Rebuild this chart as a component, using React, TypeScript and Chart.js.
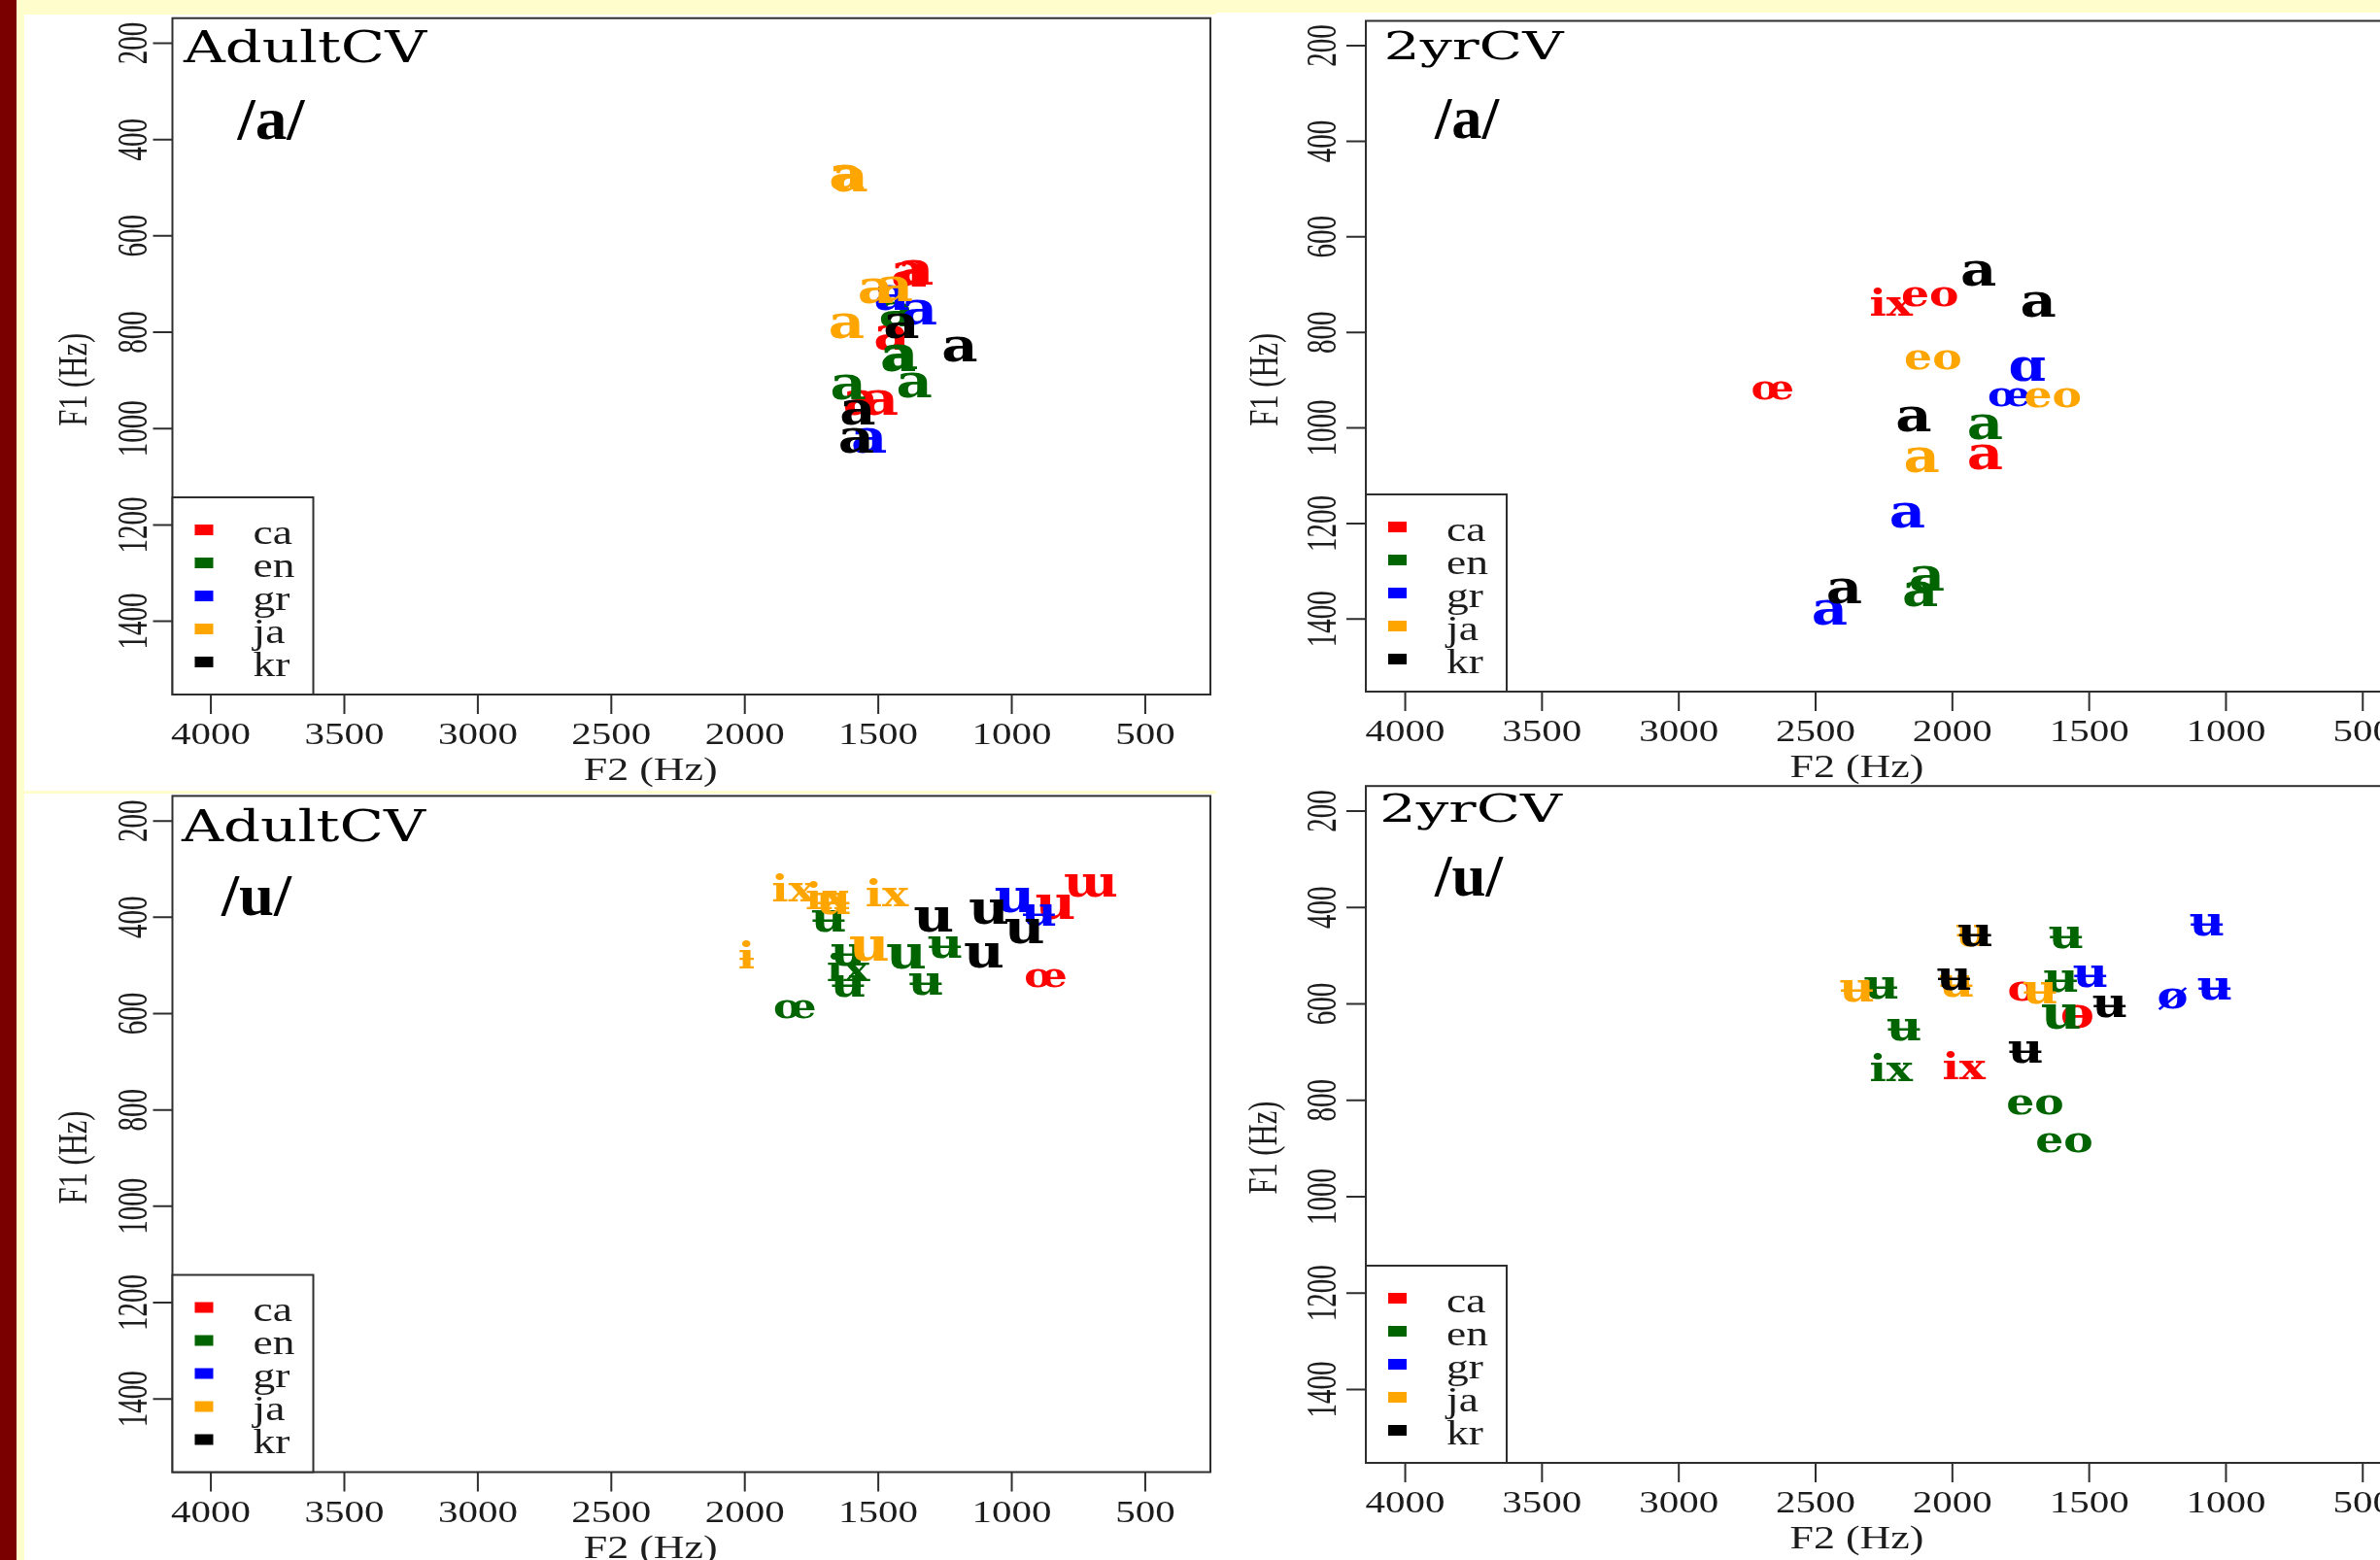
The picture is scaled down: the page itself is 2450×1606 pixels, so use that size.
import React, { useEffect, useRef } from "react";
import { Chart, registerables } from "chart.js";
Chart.register(...registerables);

// ---------- shared categories / ticks ----------
const LANGS = ["ca", "en", "gr", "ja", "kr"];
const LANG_COLORS = ["#ff0000", "#006400", "#0000ff", "#ffa500", "#000000"];
const F2_TICKS = [4000, 3500, 3000, 2500, 2000, 1500, 1000, 500];
const F1_TICKS = [200, 400, 600, 800, 1000, 1200, 1400];
const F2_LIMITS = [256, 4144];
const F1_LIMITS = [148, 1552];

// ---------- AdultCV /a/ ----------
const adultA_lang = ["ca", "ca", "ca", "ca", "ca", "en", "en", "en", "en", "en", "gr", "gr", "gr", "ja", "ja", "ja", "ja", "ja", "kr", "kr", "kr", "kr"];
const adultA_F2 = [1385, 1360, 1450, 1565, 1492, 1431, 1425, 1418, 1613, 1365, 1450, 1346, 1534, 1617, 1605, 1510, 1437, 1619, 1413, 1195, 1577, 1583];
const adultA_F1 = [679, 676, 812, 947, 947, 762, 856, 852, 913, 910, 729, 759, 1024, 479, 483, 714, 711, 786, 786, 836, 967, 1024];
const adultA_label = ["a", "a", "a", "a", "a", "a", "a", "a", "a", "a", "a", "a", "a", "a", "a", "a", "a", "a", "a", "a", "a", "a"];

// ---------- 2yrCV /a/ ----------
const childA_lang = ["ca", "ca", "ca", "ca", "en", "en", "en", "gr", "gr", "gr", "gr", "ja", "ja", "ja", "kr", "kr", "kr", "kr"];
const childA_F2 = [2224, 2082, 2657, 1881, 1881, 2094, 2118, 1727, 1793, 2165, 2449, 2071, 1633, 2112, 1905, 1686, 2142, 2396];
const childA_F1 = [745, 725, 921, 1060, 997, 1315, 1348, 877, 935, 1182, 1386, 857, 936, 1067, 677, 741, 982, 1342];
const childA_label = ["ix", "eo", "œ", "a", "a", "a", "a", "ɑ", "œ", "a", "a", "eo", "eo", "a", "a", "a", "a", "a"];

// ---------- AdultCV /u/ ----------
const adultU_lang = ["ca", "ca", "ca", "en", "en", "en", "en", "en", "en", "en", "en", "gr", "gr", "ja", "ja", "ja", "ja", "ja", "ja", "kr", "kr", "kr", "kr"];
const adultU_F2 = [837, 704, 873, 1686, 1395, 1250, 1613, 1613, 1613, 1322, 1813, 989, 898, 1819, 1692, 1668, 1468, 1534, 1994, 1292, 1086, 952, 1104];
const adultU_F1 = [378, 334, 526, 408, 482, 462, 479, 512, 543, 539, 590, 364, 395, 348, 364, 371, 358, 465, 487, 405, 388, 428, 479];
const adultU_label = ["u", "ɯ", "œ", "ʉ", "u", "ʉ", "ʉ", "ix", "ʉ", "ʉ", "œ", "u", "ʉ", "ix", "ix", "ʉ", "ix", "u", "ɨ", "u", "u", "u", "u"];

// ---------- 2yrCV /u/ ----------
const childU_lang = ["ca", "ca", "ca", "en", "en", "en", "en", "en", "en", "en", "en", "gr", "gr", "gr", "gr", "ja", "ja", "ja", "ja", "kr", "kr", "kr", "kr"];
const childU_F2 = [1745, 1544, 1958, 1585, 2260, 1603, 1603, 2177, 2224, 1698, 1591, 1070, 1496, 1195, 1041, 1925, 1985, 2349, 1680, 1917, 1994, 1425, 1733];
const childU_F1 = [573, 626, 737, 462, 566, 553, 626, 653, 740, 808, 888, 435, 542, 589, 569, 458, 562, 573, 576, 458, 549, 606, 700];
const childU_label = ["o", "ɵ", "ix", "ʉ", "ʉ", "ʉ", "u", "ʉ", "ix", "eo", "eo", "ʉ", "ʉ", "ø", "ʉ", "ʉ", "ʉ", "ʉ", "ʉ", "ʉ", "ʉ", "ʉ", "ʉ"];

// ---------- styles / layout (page coordinates) ----------
const LABEL_SIZE: Record<string, number> = {
  a: 48, u: 48, "ɯ": 44, "ʉ": 42, "ɑ": 46, ix: 38, eo: 38, "œ": 36, "ɵ": 44, "ø": 40, o: 38, "ɨ": 38,
};
const LABEL_STRETCH = 1.2;
const AXIS_COLOR = "#2e2e2e";
const TEXT_COLOR = "#1c1c1c";

type Panel = {
  key: string;
  lang: string[]; f2: number[]; f1: number[]; labels: string[];
  canvas: { x: number; y: number; w: number; h: number };
  area: { l: number; t: number; r: number; b: number };
  title: string; titleX: number; titleBase: number; titleW: number; titleSize: number;
  vowel: string; vowelCX: number; vowelBase: number; vowelW: number;
  yLabOff: number; yTitleX: number;
};

const PANELS: Panel[] = [
  {
    key: "adultA", lang: adultA_lang, f2: adultA_F2, f1: adultA_F1, labels: adultA_label,
    canvas: { x: 25, y: 15, w: 1227, h: 799 },
    area: { l: 177.5, t: 18.7, r: 1246, b: 715 },
    title: "AdultCV", titleX: 189, titleBase: 64, titleW: 250, titleSize: 45,
    vowel: "/a/", vowelCX: 279, vowelBase: 143, vowelW: 69,
    yLabOff: 42, yTitleX: 79,
  },
  {
    key: "childA", lang: childA_lang, f2: childA_F2, f1: childA_F1, labels: childA_label,
    canvas: { x: 1252, y: 13, w: 1300, h: 800 },
    area: { l: 1406, t: 21.5, r: 2501, b: 712 },
    title: "2yrCV", titleX: 1424.5, titleBase: 60.5, titleW: 185, titleSize: 40,
    vowel: "/a/", vowelCX: 1510, vowelBase: 141.5, vowelW: 66,
    yLabOff: 46, yTitleX: 1305,
  },
  {
    key: "adultU", lang: adultU_lang, f2: adultU_F2, f1: adultU_F1, labels: adultU_label,
    canvas: { x: 25, y: 817, w: 1227, h: 789 },
    area: { l: 177.5, t: 819.4, r: 1246, b: 1515.5 },
    title: "AdultCV", titleX: 187, titleBase: 866, titleW: 251, titleSize: 45,
    vowel: "/u/", vowelCX: 264, vowelBase: 942, vowelW: 72,
    yLabOff: 42, yTitleX: 79,
  },
  {
    key: "childU", lang: childU_lang, f2: childU_F2, f1: childU_F1, labels: childU_label,
    canvas: { x: 1252, y: 800, w: 1300, h: 806 },
    area: { l: 1406, t: 809.2, r: 2501, b: 1506 },
    title: "2yrCV", titleX: 1420, titleBase: 846, titleW: 188, titleSize: 40,
    vowel: "/u/", vowelCX: 1512, vowelBase: 922, vowelW: 70,
    yLabOff: 46, yTitleX: 1304,
  },
];

function drawText(ctx: CanvasRenderingContext2D, text: string, x: number, y: number, font: string, o: any = {}) {
  ctx.save();
  ctx.font = font;
  ctx.fillStyle = o.color || TEXT_COLOR;
  ctx.textAlign = o.align || "left";
  ctx.textBaseline = "alphabetic";
  const w = ctx.measureText(text).width;
  const sx = o.w ? o.w / w : o.sx || 1;
  ctx.translate(x, y);
  if (o.rot) ctx.rotate(o.rot);
  ctx.scale(sx, 1);
  ctx.fillText(text, 0, o.dy || 0);
  ctx.restore();
}

function makeDecor(p: Panel) {
  const ox = p.canvas.x;
  const oy = p.canvas.y;
  return {
    id: "decor_" + p.key,
    afterDatasetsDraw(chart: any) {
      const ctx: CanvasRenderingContext2D = chart.ctx;
      chart.data.datasets.forEach((ds: any, i: number) => {
        const meta = chart.getDatasetMeta(i);
        meta.data.forEach((el: any, j: number) => {
          const lab = ds.pointLabels[j];
          const size = LABEL_SIZE[lab] ?? 44;
          drawText(ctx, lab, el.x, el.y, `bold ${size}px "DejaVu Serif"`, {
            sx: LABEL_STRETCH, align: "center", dy: size * 0.26, color: ds.textColor,
          });
        });
      });
    },
    afterDraw(chart: any) {
      const ctx: CanvasRenderingContext2D = chart.ctx;
      const xs = chart.scales.x;
      const ys = chart.scales.y;
      const { left, right, top, bottom } = chart.chartArea;
      ctx.save();
      ctx.strokeStyle = AXIS_COLOR;
      ctx.lineWidth = 2;
      ctx.strokeRect(left, top, right - left, bottom - top);
      ctx.beginPath();
      F2_TICKS.forEach((v) => {
        const px = xs.getPixelForValue(v);
        ctx.moveTo(px, bottom);
        ctx.lineTo(px, bottom + 20);
      });
      F1_TICKS.forEach((v) => {
        const py = ys.getPixelForValue(v);
        ctx.moveTo(left - 20, py);
        ctx.lineTo(left, py);
      });
      ctx.stroke();
      ctx.restore();

      F2_TICKS.forEach((v) => {
        const s = String(v);
        drawText(ctx, s, xs.getPixelForValue(v), bottom + 51, '32px "Liberation Serif"', { w: 20.5 * s.length, align: "center" });
      });
      F1_TICKS.forEach((v) => {
        const s = String(v);
        drawText(ctx, s, left - p.yLabOff, ys.getPixelForValue(v), '45px "Liberation Serif"', {
          w: 14.5 * s.length, align: "center", rot: -Math.PI / 2, dy: 15,
        });
      });
      // axis titles
      drawText(ctx, "F2 (Hz)", (left + right) / 2 - 42, bottom + 88, '33px "Liberation Serif"', { w: 138, align: "center" });
      drawText(ctx, "F1 (Hz)", p.yTitleX - ox, (top + bottom) / 2 + 24, '42px "Liberation Serif"', {
        w: 96, align: "center", rot: -Math.PI / 2, dy: 10,
      });
      // panel title and vowel
      drawText(ctx, p.title, p.titleX - ox, p.titleBase - oy, `${p.titleSize}px "DejaVu Serif"`, { w: p.titleW, color: "#000" });
      drawText(ctx, p.vowel, p.vowelCX - ox, p.vowelBase - oy, 'bold 62px "Liberation Serif"', { w: p.vowelW, align: "center", color: "#000" });

      // legend
      const lw = 145, lh = 203;
      const lx = left, ly = bottom - lh;
      ctx.save();
      ctx.fillStyle = "#ffffff";
      ctx.fillRect(lx, ly, lw, lh);
      ctx.strokeStyle = AXIS_COLOR;
      ctx.lineWidth = 2;
      ctx.strokeRect(lx, ly, lw, lh);
      ctx.restore();
      LANGS.forEach((lg, i) => {
        const cy = ly + 33.5 + 34 * i;
        ctx.fillStyle = LANG_COLORS[i];
        ctx.fillRect(lx + 23, cy - 5.5, 19, 11);
        drawText(ctx, lg, lx + 83, cy + 14, '35px "Liberation Serif"', { sx: 1.3 });
      });
    },
  };
}

function buildConfig(p: Panel): any {
  const datasets = LANGS.map((lg, li) => {
    const idx = p.lang.map((l, k) => (l === lg ? k : -1)).filter((k) => k >= 0);
    return {
      label: lg,
      data: idx.map((k) => ({ x: p.f2[k], y: p.f1[k] })),
      pointLabels: idx.map((k) => p.labels[k]),
      textColor: LANG_COLORS[li],
      pointRadius: 0,
      pointHoverRadius: 0,
    };
  });
  return {
    type: "scatter",
    data: { datasets },
    options: {
      animation: false,
      responsive: false,
      devicePixelRatio: 1,
      events: [],
      layout: {
        autoPadding: false,
        padding: {
          left: p.area.l - p.canvas.x,
          top: p.area.t - p.canvas.y,
          right: p.canvas.x + p.canvas.w - p.area.r,
          bottom: p.canvas.y + p.canvas.h - p.area.b,
        },
      },
      plugins: { legend: { display: false }, tooltip: { enabled: false }, title: { display: false } },
      scales: {
        x: { type: "linear", display: false, reverse: true, min: F2_LIMITS[0], max: F2_LIMITS[1] },
        y: { type: "linear", display: false, reverse: true, min: F1_LIMITS[0], max: F1_LIMITS[1] },
      },
    },
    plugins: [makeDecor(p)],
  };
}

export default function App() {
  const r0 = useRef<HTMLCanvasElement>(null);
  const r1 = useRef<HTMLCanvasElement>(null);
  const r2 = useRef<HTMLCanvasElement>(null);
  const r3 = useRef<HTMLCanvasElement>(null);
  const refs = [r0, r1, r2, r3];

  useEffect(() => {
    const charts = PANELS.map((p, i) => new Chart(refs[i].current as HTMLCanvasElement, buildConfig(p)));
    return () => charts.forEach((c) => c.destroy());
  }, []);

  return (
    <div style={{ position: "fixed", left: 0, top: 0, width: 2450, height: 1606, overflow: "hidden", background: "#fffdcc" }}>
      <div style={{ position: "absolute", left: 0, top: 0, width: 17, height: 1606, background: "#7a0000" }} />
      <div style={{ position: "absolute", left: 25, top: 15, width: 1227, height: 799, background: "#ffffff" }} />
      <div style={{ position: "absolute", left: 25, top: 817, width: 1227, height: 789, background: "#ffffff" }} />
      <div style={{ position: "absolute", left: 1252, top: 13, width: 1198, height: 1593, background: "#ffffff" }} />
      {PANELS.map((p, i) => (
        <canvas
          key={p.key}
          ref={refs[i]}
          width={p.canvas.w}
          height={p.canvas.h}
          style={{ position: "absolute", left: p.canvas.x, top: p.canvas.y, width: p.canvas.w, height: p.canvas.h }}
        />
      ))}
    </div>
  );
}
